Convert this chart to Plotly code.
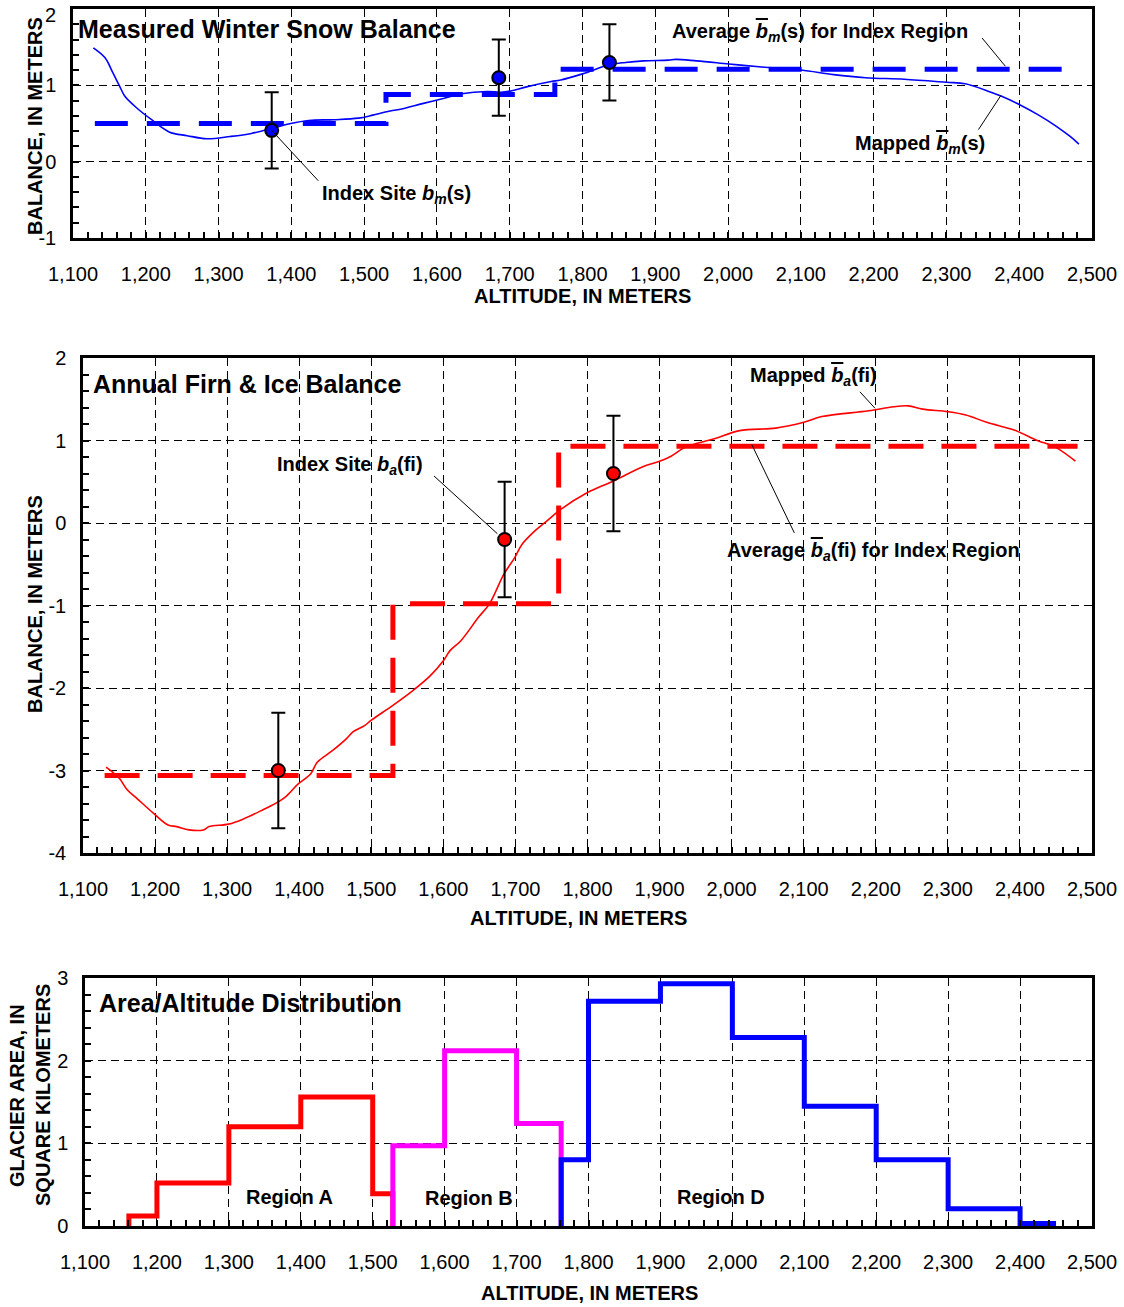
import plotly.graph_objects as go

W, H = 1124, 1307
FONT = "Arial, 'Liberation Sans', Helvetica, sans-serif"
BLUE, RED, MAGENTA = "#0000FF", "#FF0000", "#FF00FF"

# ---------------- Panel 1: measured winter snow balance ----------------
SNOW_ALT = [1128, 1144, 1154, 1164, 1171, 1188, 1208, 1232, 1257, 1284, 1316, 1345,
            1375, 1399, 1424, 1458, 1492, 1512, 1529, 1556, 1580, 1610, 1634, 1669,
            1688, 1703, 1723, 1757, 1770, 1800, 1837, 1859, 1884, 1918, 1928, 1957,
            2001, 2046, 2100, 2145, 2189, 2242, 2300, 2326, 2361, 2375, 2400, 2425,
            2450, 2470, 2482]
SNOW_BAL = [1.49, 1.36, 1.18, 0.99, 0.86, 0.70, 0.55, 0.39, 0.34, 0.30, 0.33, 0.37,
            0.44, 0.50, 0.54, 0.55, 0.57, 0.61, 0.65, 0.70, 0.76, 0.83, 0.89, 0.92,
            0.91, 0.93, 0.98, 1.05, 1.07, 1.15, 1.27, 1.30, 1.32, 1.33, 1.34, 1.32,
            1.28, 1.24, 1.20, 1.14, 1.10, 1.08, 1.04, 1.02, 0.91, 0.86, 0.75, 0.62,
            0.47, 0.33, 0.23]
SNOW_SITE_ALT = [1373, 1685, 1837]
SNOW_SITE_BAL = [0.41, 1.10, 1.30]
SNOW_SITE_ERR = [0.5, 0.5, 0.5]
SNOW_REGION_EDGES = [1130, 1530, 1762, 2480]
SNOW_REGION_AVG = [0.50, 0.88, 1.21]

# ---------------- Panel 2: annual firn & ice balance ----------------
FIRN_ALT = [1132, 1141, 1151, 1161, 1175, 1198, 1218, 1230, 1247, 1267, 1275, 1302,
            1322, 1351, 1371, 1381, 1399, 1416, 1425, 1446, 1466, 1475, 1490, 1500,
            1530, 1555, 1582, 1600, 1609, 1624, 1649, 1664, 1684, 1699, 1709, 1724,
            1743, 1762, 1800, 1836, 1876, 1900, 1916, 1936, 1976, 2011, 2061, 2100,
            2125, 2190, 2225, 2245, 2265, 2300, 2325, 2354, 2394, 2424, 2449, 2477]
FIRN_BAL = [-2.96, -3.02, -3.10, -3.23, -3.34, -3.52, -3.66, -3.68, -3.72, -3.72, -3.68, -3.65,
            -3.59, -3.47, -3.38, -3.32, -3.16, -3.04, -2.90, -2.76, -2.61, -2.53, -2.46, -2.39,
            -2.21, -2.05, -1.85, -1.67, -1.55, -1.43, -1.14, -0.98, -0.62, -0.42, -0.26, -0.12,
            0.02, 0.16, 0.37, 0.51, 0.68, 0.75, 0.81, 0.92, 1.02, 1.12, 1.15, 1.22,
            1.29, 1.36, 1.41, 1.42, 1.38, 1.35, 1.31, 1.22, 1.12, 1.00, 0.92, 0.75]
FIRN_SITE_ALT = [1371, 1685, 1836]
FIRN_SITE_BAL = [-3.00, -0.20, 0.60]
FIRN_SITE_ERR = [0.7, 0.7, 0.7]
FIRN_REGION_EDGES = [1130, 1530, 1760, 2480]
FIRN_REGION_AVG = [-3.06, -0.98, 0.93]

# ---------------- Panel 3: area / altitude distribution ----------------
AREA_A_EDGES = [1161, 1200, 1300, 1400, 1500, 1528]
AREA_A = [0.12, 0.52, 1.20, 1.56, 0.39]
AREA_B_EDGES = [1528, 1600, 1700, 1762]
AREA_B = [0.97, 2.12, 1.24]
AREA_D_EDGES = [1762, 1800, 1900, 2000, 2100, 2200, 2300, 2400, 2450]
AREA_D = [0.80, 2.72, 2.93, 2.28, 1.45, 0.80, 0.21, 0.03]

X_TICKS = list(range(1100, 2501, 100))
X_LABELS = [f"{v:,}" for v in X_TICKS]
P1_Y_TICKS = [-1, 0, 1, 2]
P1_Y_LABELS = ["-1", "0", "1", "2"]
P2_Y_TICKS = [-4, -3, -2, -1, 0, 1, 2]
P2_Y_LABELS = ["-4", "-3", "-2", "-1", "0", "1", "2"]
P3_Y_TICKS = [0, 1, 2, 3]
P3_Y_LABELS = ["0", "1", "2", "3"]

# leader lines (from text to feature), in data units
LEADERS_P1 = [((2349, 1.62), (2381, 1.25)), ((2344, 0.42), (2375, 0.87)), ((1437, -0.25), (1373, 0.41))]
LEADERS_P2 = [((1587, 0.57), (1675, -0.13)), ((2178, 1.59), (2199, 1.39)), ((2087, -0.12), (2028, 0.95))]


def px(x):
    return x / W


def py(y):
    return 1 - y / H


def step_path(edges, values, close=True):
    xs = [edges[0]] + list(edges)
    ys = [0] + list(values) + [values[-1]]
    if close:
        xs = xs + [edges[-1]]
        ys = ys + [0]
    return xs, ys


def avg_path(edges, values):
    return list(edges), list(values) + [values[-1]]


fig = go.Figure()

# Panel 1
ax_, ay_ = avg_path(SNOW_REGION_EDGES, SNOW_REGION_AVG)
fig.add_trace(go.Scatter(x=ax_, y=ay_, mode="lines", line_shape="hv",
                         line=dict(color=BLUE, width=5, dash="33px,19px"), xaxis="x", yaxis="y"))
fig.add_trace(go.Scatter(x=SNOW_ALT, y=SNOW_BAL, mode="lines",
                         line=dict(color=BLUE, width=1.6), line_shape="spline", xaxis="x", yaxis="y"))
fig.add_trace(go.Scatter(x=SNOW_SITE_ALT, y=SNOW_SITE_BAL, mode="markers",
                         marker=dict(color=BLUE, size=13, line=dict(color="black", width=2)),
                         error_y=dict(type="data", array=SNOW_SITE_ERR, color="black", thickness=2, width=7),
                         xaxis="x", yaxis="y"))

# Panel 2
ax_, ay_ = avg_path(FIRN_REGION_EDGES, FIRN_REGION_AVG)
fig.add_trace(go.Scatter(x=ax_, y=ay_, mode="lines", line_shape="hv",
                         line=dict(color=RED, width=5, dash="35px,18px"), xaxis="x2", yaxis="y2"))
fig.add_trace(go.Scatter(x=FIRN_ALT, y=FIRN_BAL, mode="lines",
                         line=dict(color=RED, width=1.6), line_shape="spline", xaxis="x2", yaxis="y2"))
fig.add_trace(go.Scatter(x=FIRN_SITE_ALT, y=FIRN_SITE_BAL, mode="markers",
                         marker=dict(color=RED, size=13, line=dict(color="black", width=2)),
                         error_y=dict(type="data", array=FIRN_SITE_ERR, color="black", thickness=2, width=7),
                         xaxis="x2", yaxis="y2"))

# Panel 3
for edges, vals, col in [(AREA_A_EDGES, AREA_A, RED), (AREA_B_EDGES, AREA_B, MAGENTA),
                         (AREA_D_EDGES, AREA_D, BLUE)]:
    sx, sy = step_path(edges, vals, close=(col != BLUE))
    fig.add_trace(go.Scatter(x=sx, y=sy, mode="lines", line_shape="hv",
                             line=dict(color=col, width=5), xaxis="x3", yaxis="y3"))

tickfont = dict(family=FONT, size=20, color="black")


def xaxis(domain, anchor):
    return dict(domain=domain, anchor=anchor, range=[1100, 2500], tickvals=X_TICKS, ticktext=X_LABELS,
                automargin=False, ticklabeloverflow="allow",
                showline=True, linecolor="black", linewidth=2.5, mirror=True,
                ticks="inside", ticklen=6, tickwidth=1.5, tickcolor="black",
                showgrid=True, gridcolor="black", gridwidth=1, griddash="8px,5px", zeroline=False,
                tickfont=tickfont, ticklabelstandoff=16,
                minor=dict(ticks="inside", ticklen=6, tickwidth=1.5, tickcolor="black",
                           dtick=20, tick0=1100, showgrid=False))


def yaxis(domain, anchor, rng, tv, tt):
    return dict(domain=domain, anchor=anchor, range=rng, tickvals=tv, ticktext=tt,
                automargin=False, ticklabeloverflow="allow",
                showline=True, linecolor="black", linewidth=2.5, mirror=True,
                ticks="inside", ticklen=6, tickwidth=1.5, tickcolor="black",
                showgrid=True, gridcolor="black", gridwidth=1, griddash="8px,5px", zeroline=False,
                tickfont=tickfont, ticklabelstandoff=10,
                minor=dict(ticks="inside", ticklen=6, tickwidth=1.5, tickcolor="black",
                           dtick=0.2, tick0=0, showgrid=False))


shapes = []
for (a, b) in LEADERS_P1:
    shapes.append(dict(type="line", xref="x", yref="y", x0=a[0], y0=a[1], x1=b[0], y1=b[1],
                       line=dict(color="black", width=1)))
for (a, b) in LEADERS_P2:
    shapes.append(dict(type="line", xref="x2", yref="y2", x0=a[0], y0=a[1], x1=b[0], y1=b[1],
                       line=dict(color="black", width=1)))

BBAR = '<span style="text-decoration:overline"><i>b</i></span>'


def label(text, x, y, size=20, xanchor="left", angle=0, bold=True):
    return dict(text=f"<b>{text}</b>" if bold else text, x=px(x), y=py(y), xref="paper", yref="paper",
                xanchor=xanchor, yanchor="middle", showarrow=False, textangle=angle,
                font=dict(family=FONT, size=size, color="black"))


annotations = [
    label("Measured Winter Snow Balance", 76, 29, size=25),
    label(f"Average {BBAR}<sub><i>m</i></sub>(s) for Index Region", 670, 32),
    label(f"Mapped {BBAR}<sub><i>m</i></sub>(s)", 853, 145),
    label("Index Site <i>b</i><sub><i>m</i></sub>(s)", 320, 195),
    label("Annual Firn &amp; Ice Balance", 91, 384, size=25),
    label(f"Mapped {BBAR}<sub><i>a</i></sub>(fi)", 748, 376),
    label("Index Site <i>b</i><sub><i>a</i></sub>(fi)", 275, 465),
    label(f"Average {BBAR}<sub><i>a</i></sub>(fi) for Index Region", 725, 551),
    label("Area/Altitude Distribution", 97, 1003, size=25),
    label("Region A", 289, 1197, xanchor="center"),
    label("Region B", 469, 1198, xanchor="center"),
    label("Region D", 721, 1197, xanchor="center"),
    # axis titles
    label("ALTITUDE, IN METERS", 582, 296, xanchor="center"),
    label("ALTITUDE, IN METERS", 578, 918, xanchor="center"),
    label("ALTITUDE, IN METERS", 589, 1293, xanchor="center"),
    label("BALANCE, IN METERS", 35, 126, xanchor="center", angle=-90),
    label("BALANCE, IN METERS", 35, 604, xanchor="center", angle=-90),
    label("GLACIER AREA, IN", 17, 1096, xanchor="center", angle=-90),
    label("SQUARE KILOMETERS", 43, 1095, xanchor="center", angle=-90),
    # top tick label of panel 1 sits just below the frame edge, as in the original
    label(P1_Y_LABELS[-1], 50, 15, bold=False),
]
annotations[-1]["xanchor"] = "center"

P1_Y_TEXT = P1_Y_LABELS[:-1] + [""]

fig.update_layout(
    width=W, height=H, margin=dict(l=0, r=0, t=0, b=0, autoexpand=False),
    paper_bgcolor="white", plot_bgcolor="white", showlegend=False,
    font=dict(family=FONT, color="black"),
    xaxis=xaxis([px(73), px(1092)], "y"),
    yaxis=yaxis([py(238), py(9)], "x", [-1, 2], P1_Y_TICKS, P1_Y_TEXT),
    xaxis2=xaxis([px(83), px(1092)], "y2"),
    yaxis2=yaxis([py(853), py(358)], "x2", [-4, 2], P2_Y_TICKS, P2_Y_LABELS),
    xaxis3=xaxis([px(85), px(1092)], "y3"),
    yaxis3=yaxis([py(1226), py(978)], "x3", [0, 3], P3_Y_TICKS, P3_Y_LABELS),
    shapes=shapes, annotations=annotations,
)

fig.write_html("out.html")
